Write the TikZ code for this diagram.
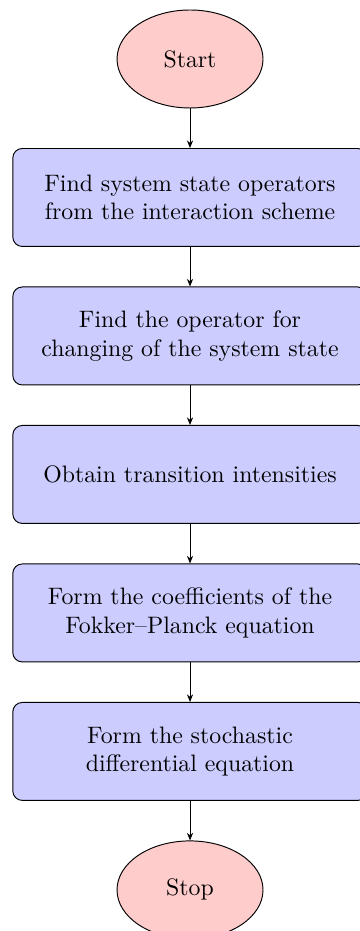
\documentclass[tikz,border=0pt]{standalone}
\usepackage{xcolor}
\usepackage{tikz}
\usetikzlibrary{arrows.meta,positioning,shapes.geometric}
\definecolor{termfill}{HTML}{FFCCCC}
\definecolor{stepfill}{HTML}{CCCCFF}
\definecolor{linedark}{HTML}{000000}
\tikzset{
  terminal/.style={draw=linedark, ellipse, align=center, fill=termfill, minimum width=2.156cm, minimum height=1.447cm, inner sep=2pt},
  stepbox/.style={draw=linedark, rounded corners=4pt, align=center, fill=stepfill, text width=5cm, minimum height=1.447cm},
  arrow/.style={-{Stealth[length=3.2pt, width=2.6pt]}, draw=linedark}
}
\begin{document}
\begin{tikzpicture}
  \useasboundingbox (-2.806,0) rectangle (2.496,-13.748);

  \node[terminal] (start) at (0,-0.871) {Start};
  \node[stepbox] (operators) at (0,-2.916) {Find system state operators\\from the interaction scheme};
  \node[stepbox] (changeOp) at (0,-4.961) {Find the operator for\\changing of the system state};
  \node[stepbox] (intensities) at (0,-7.006) {Obtain transition intensities};
  \node[stepbox] (coefficients) at (0,-9.051) {Form the coefficients of the\\Fokker--Planck equation};
  \node[stepbox] (sde) at (0,-11.096) {Form the stochastic\\differential equation};
  \node[terminal] (stop) at (0,-13.141) {Stop};

  \draw[arrow] (start) -- (operators);
  \draw[arrow] (operators) -- (changeOp);
  \draw[arrow] (changeOp) -- (intensities);
  \draw[arrow] (intensities) -- (coefficients);
  \draw[arrow] (coefficients) -- (sde);
  \draw[arrow] (sde) -- (stop);
\end{tikzpicture}
\end{document}
